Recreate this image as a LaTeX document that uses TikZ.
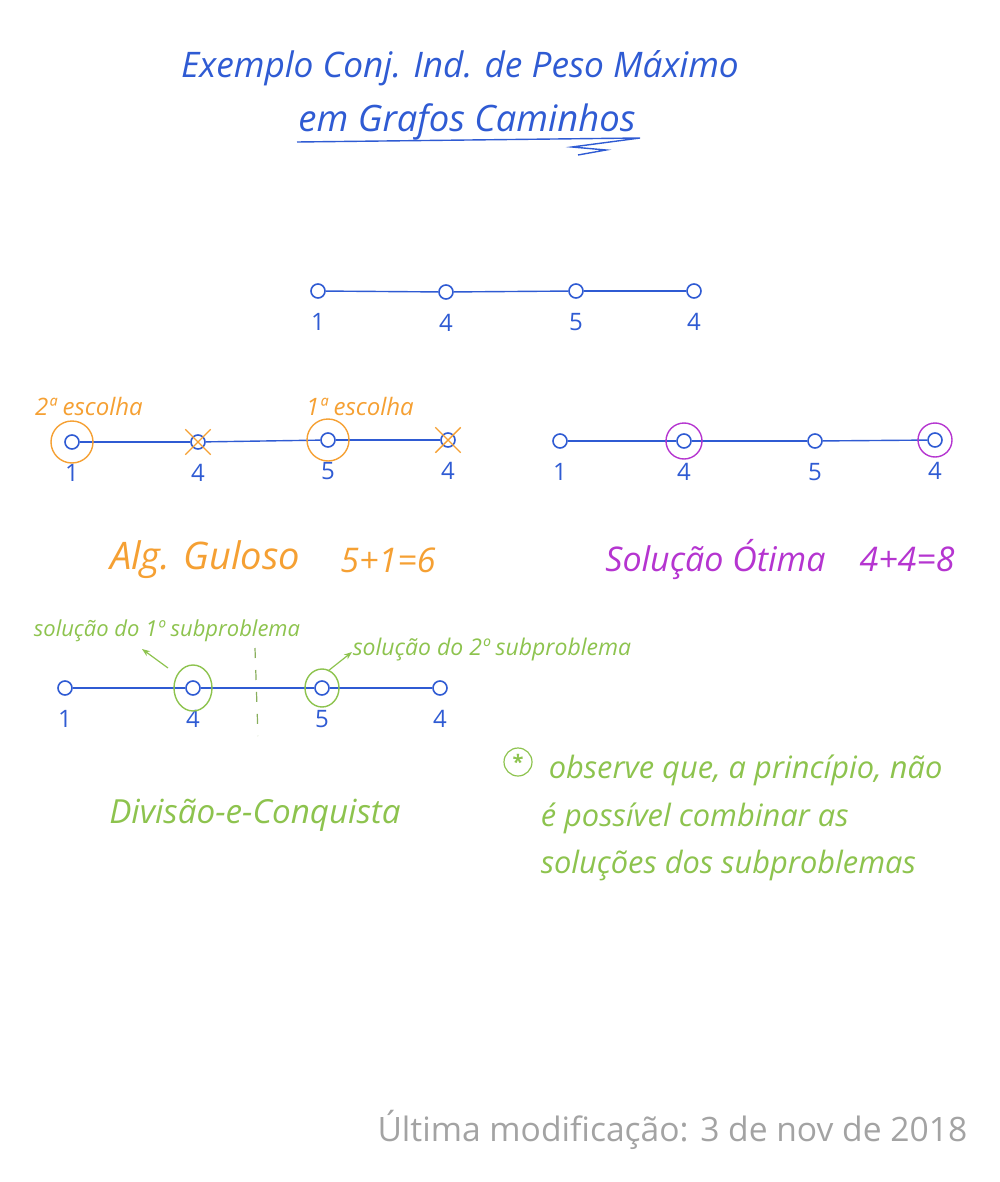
\documentclass[tikz,border=0pt]{standalone}
\usepackage{fontspec}
\setmainfont{Open Sans}
\usetikzlibrary{positioning,shapes.misc,arrows.meta}
\definecolor{pen}{HTML}{2F5BD3}
\definecolor{greedy}{HTML}{F5A033}
\definecolor{optimal}{HTML}{B535D0}
\definecolor{divide}{HTML}{8DC34E}
\definecolor{footer}{HTML}{A3A3A3}

\begin{document}
\begin{tikzpicture}[x=0.5pt,y=-0.5pt,thick,
    vertex/.style={circle,draw=pen,line width=0.8pt,inner sep=0pt,minimum size=7pt},
    weight/.style={text=pen,font=\fontsize{12}{14}\selectfont,inner sep=1pt},
    link/.style={draw=pen,line width=0.7pt},
    hand/.style={font=\itshape\fontsize{#1}{#1}\selectfont,inner sep=0pt},
    ring/.style={line width=0.7pt},
    strike/.style={cross out,draw=greedy,line width=0.7pt,minimum size=12pt,inner sep=0pt}]
                \useasboundingbox (0,0) rectangle (1000,1182);

                \node[hand=17.6,text=pen] (title1) at (460,68) {Exemplo Conj. Ind. de Peso Máximo};
                \node[hand=18.2,text=pen] (title2) at (467,122) {em Grafos Caminhos};
                \draw[pen,line width=0.7pt] (297,142) -- (640,138) -- (572,147) -- (606,150) -- (578,155);

                % grafo caminho
                \node[vertex] (a1) at (318,291) {};
                \node[vertex] (a2) at (446,292) {};
                \node[vertex] (a3) at (576,291) {};
                \node[vertex] (a4) at (694,291) {};
                \node[weight] (wa1) [below=6pt of a1] {1};
                \node[weight] (wa2) [below=6pt of a2] {4};
                \node[weight] (wa3) [below=6pt of a3] {5};
                \node[weight] (wa4) [below=6pt of a4] {4};
                \path[link]
                    (a1) edge (a2)
                    (a2) edge (a3)
                    (a3) edge (a4)
                    ;

                % algoritmo guloso
                \node[vertex] (g1) at (72,442) {};
                \node[vertex] (g2) at (198,442) {};
                \node[vertex] (g3) at (328,440) {};
                \node[vertex] (g4) at (448,440) {};
                \node[weight] (wg1) [below=6pt of g1] {1};
                \node[weight] (wg2) [below=6pt of g2] {4};
                \node[weight] (wg3) [below=6pt of g3] {5};
                \node[weight] (wg4) [below=6pt of g4] {4};
                \path[link]
                    (g1) edge (g2)
                    (g2) edge (g3)
                    (g3) edge (g4)
                    ;
                \draw[greedy,ring] (g1) circle[radius=21];
                \draw[greedy,ring] (g3) circle[radius=21];
                \node[strike] (x2) at (g2) {};
                \node[strike] (x4) at (g4) {};
                \node[hand=12,text=greedy] (pick2) at (89,406) {2ª escolha};
                \node[hand=12,text=greedy] (pick1) at (360,406) {1ª escolha};
                \node[hand=19,text=greedy] (gul) at (205,560) {Alg. Guloso};
                \node[hand=17,text=greedy] (gsum) at (388,560) {5+1=6};

                % solucao otima
                \node[vertex] (o1) at (560,441) {};
                \node[vertex] (o2) at (684,441) {};
                \node[vertex] (o3) at (815,441) {};
                \node[vertex] (o4) at (935,440) {};
                \node[weight] (wo1) [below=6pt of o1] {1};
                \node[weight] (wo2) [below=6pt of o2] {4};
                \node[weight] (wo3) [below=6pt of o3] {5};
                \node[weight] (wo4) [below=6pt of o4] {4};
                \path[link]
                    (o1) edge (o2)
                    (o2) edge (o3)
                    (o3) edge (o4)
                    ;
                \draw[optimal,ring] (o2) circle[radius=18];
                \draw[optimal,ring] (o4) circle[radius=17];
                \node[hand=17,text=optimal] (otm) at (780,560) {Solução Ótima\quad 4+4=8};

                % divisao e conquista
                \node[vertex] (d1) at (65,688) {};
                \node[vertex] (d2) at (193,688) {};
                \node[vertex] (d3) at (322,688) {};
                \node[vertex] (d4) at (440,688) {};
                \node[weight] (wd1) [below=6pt of d1] {1};
                \node[weight] (wd2) [below=6pt of d2] {4};
                \node[weight] (wd3) [below=6pt of d3] {5};
                \node[weight] (wd4) [below=6pt of d4] {4};
                \path[link]
                    (d1) edge (d2)
                    (d2) edge (d3)
                    (d3) edge (d4)
                    ;
                \draw[divide,ring] (d2) ellipse[x radius=19,y radius=23];
                \draw[divide,ring] (d3) ellipse[x radius=17,y radius=19];
                \coordinate (cut1) at (255,648);
                \coordinate (cut2) at (258,736);
                \draw[divide!70!gray,line width=0.6pt,dash pattern=on 5pt off 6pt] (cut1) -- (cut2);
                \node[hand=11,text=divide] (sub1) at (167,631) {solução do 1º subproblema};
                \node[hand=11.5,text=divide,anchor=west] (sub2) at (352,650) {solução do 2º subproblema};
                \coordinate (s1) at (168,668);
                \coordinate (t1) at (142,649);
                \coordinate (s2) at (328,671);
                \coordinate (t2) at (352,652);
                \draw[divide,line width=0.6pt,-{Stealth[open,length=4pt]}] (s1) -- (t1);
                \draw[divide,line width=0.6pt,-{Stealth[open,length=4pt]}] (s2) -- (t2);
                \node[hand=16.6,text=divide] (dc) at (255,815) {Divisão-e-Conquista};

                \node[circle,draw=divide,line width=0.6pt,inner sep=0pt,minimum size=14pt,text=divide,font=\bfseries] (star) at (518,762) {*};
                \node[hand=15.4,text=divide,anchor=west] (obs1) at (548,770) {observe que, a princípio, não};
                \node[hand=15.4,text=divide,anchor=west] (obs2) at (540,818) {é possível combinar as};
                \node[hand=15.4,text=divide,anchor=west] (obs3) at (540,865) {soluções dos subproblemas};

                \node[text=footer,font=\fontsize{16.8}{20}\selectfont,anchor=east,inner sep=0pt] (mod) at (968,1130) {Última modificação: 3 de nov de 2018};
            \end{tikzpicture}
\end{document}
